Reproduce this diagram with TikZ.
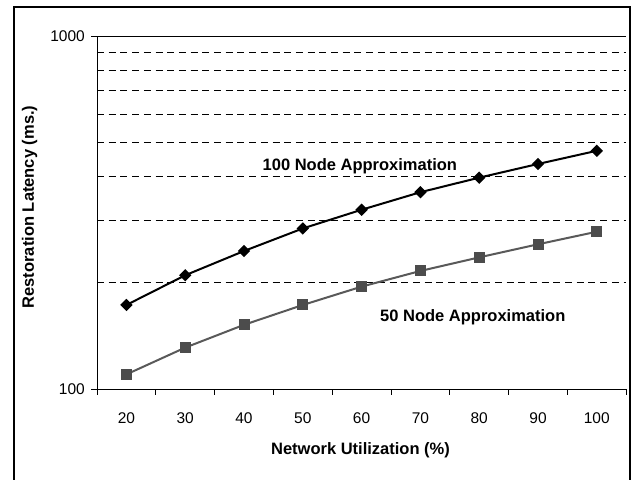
\documentclass[tikz,border=0pt]{standalone}
\usepackage{fontspec}
\setmainfont{Liberation Sans}
\usetikzlibrary{shapes.geometric}

% y position (pt, downward) of a latency value on the 100--1000 log axis
\newcommand{\latY}[1]{389-353*log10(#1/100)}
% x position of the centre of category #1 (1..9)
\newcommand{\catX}[1]{97+58.8*(#1-0.5)}

\tikzset{
  frameline/.style={line width=2pt, black},
  axisline/.style={line width=1pt, black},
  gridline/.style={line width=1pt, black, dash pattern=on 7pt off 4.7pt},
  ticklabel/.style={inner sep=0pt, font=\fontsize{15.5}{18}\selectfont},
  titlelabel/.style={inner sep=0pt, font=\fontsize{16.5}{19}\selectfont\bfseries},
  serieslabel/.style={inner sep=0pt, font=\fontsize{16.5}{19}\selectfont\bfseries},
  line100/.style={line width=2pt, black, line join=round},
  line50/.style={line width=2pt, black!65, line join=round},
  dmk/.style={diamond, fill=black, inner sep=0pt, minimum width=12.5pt, minimum height=12.5pt},
  smk/.style={rectangle, fill=black!70, inner sep=0pt, minimum size=11pt},
}

\begin{document}
\begin{tikzpicture}[x=1pt, y=-1pt]
  \useasboundingbox (0,0) rectangle (633,480);

  % outer frame (open at the bottom edge)
  \draw[frameline] (14,482) -- (14,7) -- (630,7) -- (630,482);

  % horizontal gridlines 200..900 and the solid 1000 line
  \foreach \g in {200,300,400,500,600,700,800,900}
    \draw[gridline] (97,{\latY{\g}}) -- (626,{\latY{\g}});
  \draw[axisline] (97,36) -- (626,36);

  % axes and tick marks
  \draw[axisline] (97,36) -- (97,389) -- (626,389);
  \draw[axisline] (91,36) -- (97,36);
  \draw[axisline] (91,389) -- (97,389);
  \foreach \k in {0,...,9}
    \draw[axisline] ({97+58.8*\k},389) -- ({97+58.8*\k},395);

  % axis numbers
  \node[ticklabel, anchor=east] (y1000) at (85,36) {1000};
  \node[ticklabel, anchor=east] (y100) at (85,389) {100};
  \foreach \u [count=\i] in {20,30,40,50,60,70,80,90,100}
    \node[ticklabel, anchor=base] (xl\i) at ({\catX{\i}},423) {\u};

  % axis titles
  \node[titlelabel, anchor=base] (xtitle) at (360.5,454) {Network Utilization (\%)};
  \node[titlelabel, anchor=base, rotate=90] (ytitle) at (34,207) {Restoration Latency (ms.)};

  % data points
  \foreach \v [count=\i] in {173,210,246,285,322,361,397,434,473}
    \coordinate (h\i) at ({\catX{\i}},{\latY{\v}});
  \foreach \v [count=\i] in {110,131,152,173,195,216,236,257,279}
    \coordinate (f\i) at ({\catX{\i}},{\latY{\v}});

  % series lines
  \draw[line50] (f1) \foreach \i in {2,...,9} { -- (f\i) };
  \draw[line100] (h1) \foreach \i in {2,...,9} { -- (h\i) };

  % markers
  \foreach \i in {1,...,9} {
    \node[smk] (fm\i) at (f\i) {};
    \node[dmk] (hm\i) at (h\i) {};
  }

  % series labels
  \node[serieslabel, anchor=base west] (lab100) at (262.5,170) {100 Node Approximation};
  \node[serieslabel, anchor=base west] (lab50) at (380,321.5) {50 Node Approximation};
\end{tikzpicture}
\end{document}
